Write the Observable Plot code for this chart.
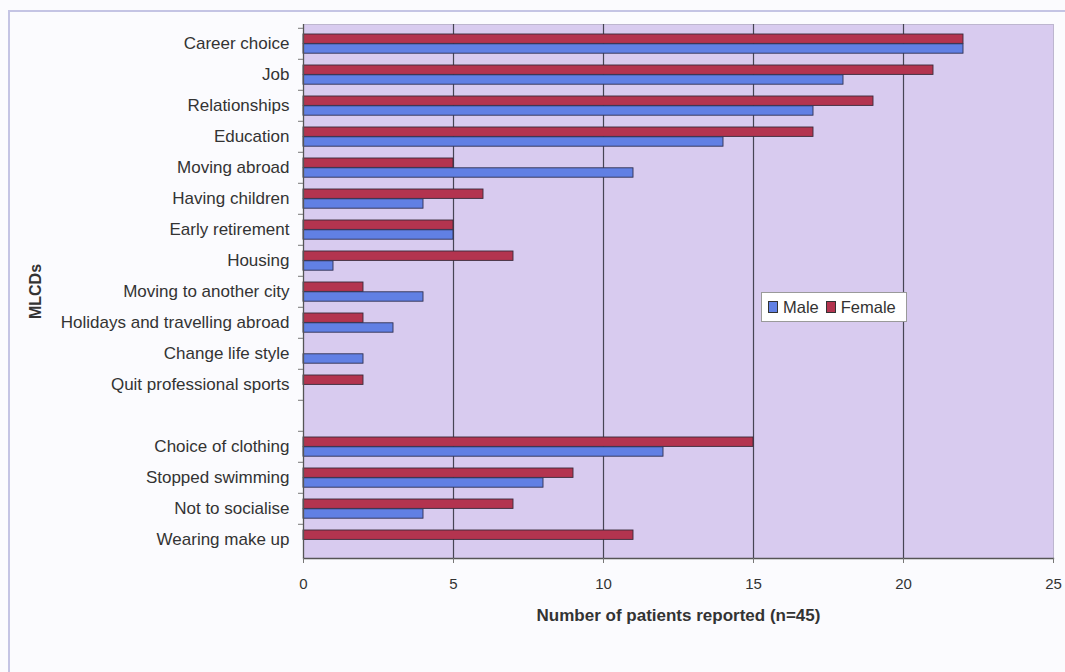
<!DOCTYPE html>
<html>
<head>
<meta charset="utf-8">
<script src="https://cdn.jsdelivr.net/npm/d3@7"></script>
<script src="https://cdn.jsdelivr.net/npm/@observablehq/plot@0.6"></script>
<style>
  html, body { margin: 0; padding: 0; background: #fbfbfe; }
  #wrap { position: relative; width: 1065px; height: 672px; overflow: hidden; font-family: "Liberation Sans", Arial, sans-serif; }
  #border { position: absolute; left: 8px; top: 10px; width: 1100px; height: 700px; border: 2px solid #c4c4e4; box-sizing: border-box; }
  #legend { position: absolute; left: 761px; top: 292px; width: 146px; height: 30px; background: #fff; border: 1px solid #9a9a9a; box-sizing: border-box; display: flex; align-items: center; padding-left: 6px; font-size: 16.5px; color: #333; }
  #legend .sw { display: inline-block; width: 8px; height: 10px; border: 1px solid #333; margin-right: 5px; }
  #legend .lab { margin-right: 7px; }
  svg g[aria-label="x-axis label"] text, svg g[aria-label="y-axis label"] text { font-weight: bold; }
</style>
</head>
<body>
<div id="wrap">
  <div id="border"></div>
  <div id="chart"></div>
  <div id="legend"></div>
</div>
<script>
// Categories (top to bottom); "" is the empty gap row in the original chart
const categories = [
  "Career choice", "Job", "Relationships", "Education", "Moving abroad",
  "Having children", "Early retirement", "Housing", "Moving to another city",
  "Holidays and travelling abroad", "Change life style", "Quit professional sports",
  "",
  "Choice of clothing", "Stopped swimming", "Not to socialise", "Wearing make up"
];
const seriesNames = ["Male", "Female"];
const maleValues   = [22, 18, 17, 14, 11, 4, 5, 1, 4, 3, 2, 0, null, 12, 8, 4, 0];
const femaleValues = [22, 21, 19, 17, 5, 6, 5, 7, 2, 2, 0, 2, null, 15, 9, 7, 11];
const xTicks = [0, 5, 10, 15, 20, 25];
const colors = {Male: "#6180e4", Female: "#b3344f"};

const maleData = categories.map((c, i) => ({category: c, value: maleValues[i], series: "Male"})).filter(d => d.value);
const femaleData = categories.map((c, i) => ({category: c, value: femaleValues[i], series: "Female"})).filter(d => d.value);

const W = 1065, H = 672;
const mTop = 24, mBottom = 114, mLeft = 303, mRight = 12;
const slot = (H - mTop - mBottom) / categories.length;
const barH = 9.8;
const gapTop = 6;

const chart = Plot.plot({
  width: W,
  height: H,
  marginTop: mTop,
  marginBottom: mBottom,
  marginLeft: mLeft,
  marginRight: mRight,
  style: {fontFamily: "'Liberation Sans', Arial, sans-serif", fontSize: "15px", background: "transparent", color: "#333"},
  x: {domain: [0, 25]},
  y: {domain: categories, padding: 0},
  marks: [
    Plot.frame({fill: "#d8cbef", stroke: "#bdb6cf"}),
    Plot.gridX(xTicks.slice(1, -1), {stroke: "#2e2e38", strokeOpacity: 0.85, strokeWidth: 1.2}),
    Plot.barX(femaleData, {y: "category", x: "value", fill: colors.Female, stroke: "#3a2a3a", strokeWidth: 0.9,
      insetTop: gapTop, insetBottom: slot - gapTop - barH}),
    Plot.barX(maleData, {y: "category", x: "value", fill: colors.Male, stroke: "#303050", strokeWidth: 0.9,
      insetTop: gapTop + barH, insetBottom: slot - gapTop - 2 * barH}),
    Plot.ruleX([0], {stroke: "#555", strokeWidth: 1.3}),
    Plot.frame({anchor: "bottom", stroke: "#555", strokeWidth: 1.3}),
    Plot.axisY({tickSize: 0, tickPadding: 14, fontSize: 17, label: null}),
    Plot.axisY({tickSize: 0, tickFormat: () => "", label: "MLCDs", labelAnchor: "center", labelOffset: 274, fontSize: 16}),
    Plot.axisY({ticks: categories, tickSize: 5, tickFormat: () => "", dy: -slot / 2, label: null, stroke: "#777"}),
    Plot.axisX({ticks: xTicks, tickSize: 5, tickPadding: 15, stroke: "#777", fontSize: 15, label: null}),
    Plot.axisX({ticks: [], tickSize: 0, label: "Number of patients reported (n=45)", labelArrow: false,
      labelAnchor: "center", labelOffset: 62, fontSize: 17})
  ]
});
document.getElementById("chart").appendChild(chart);

const legend = document.getElementById("legend");
seriesNames.forEach(s => {
  const sw = document.createElement("span");
  sw.className = "sw";
  sw.style.background = colors[s];
  const lab = document.createElement("span");
  lab.className = "lab";
  lab.textContent = s;
  legend.appendChild(sw);
  legend.appendChild(lab);
});
</script>
</body>
</html>
